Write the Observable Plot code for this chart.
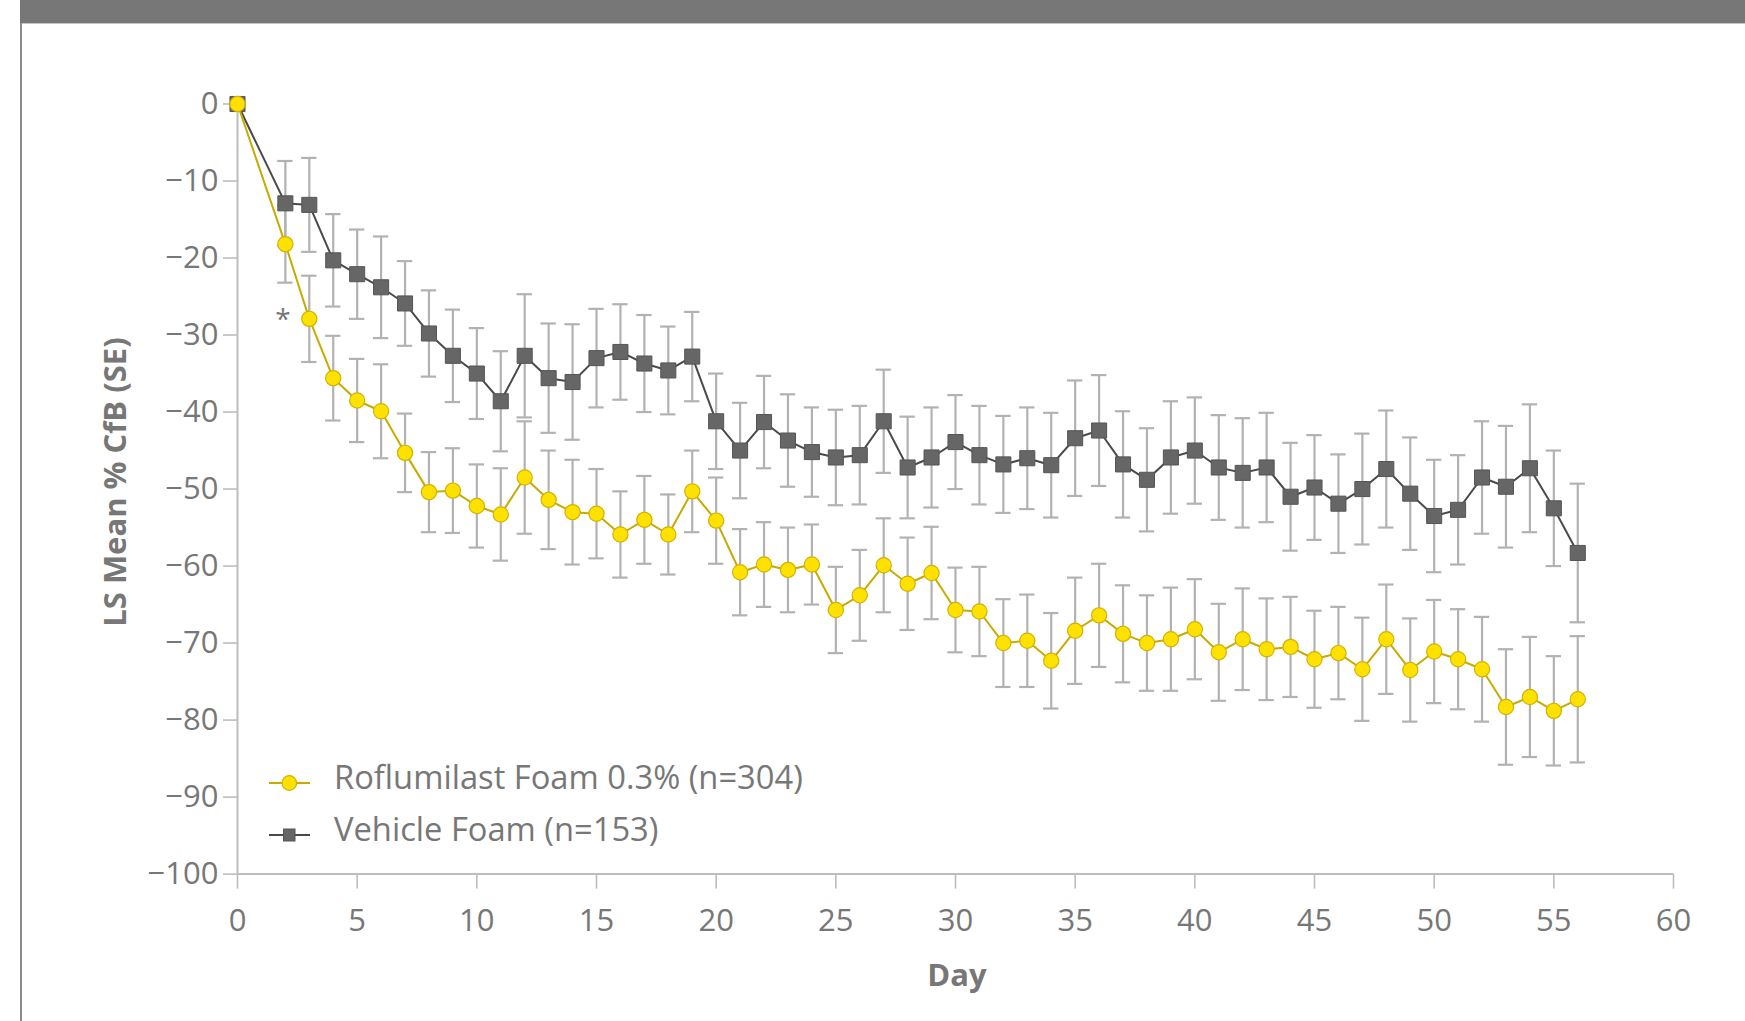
<!DOCTYPE html>
<html>
<head>
<meta charset="utf-8">
<script src="https://cdn.jsdelivr.net/npm/d3@7"></script>
<script src="https://cdn.jsdelivr.net/npm/@observablehq/plot@0.6"></script>
<style>
  html, body { margin: 0; padding: 0; background: #fff; }
  #wrap { position: relative; width: 1745px; height: 1021px; overflow: hidden; font-family: "Open Sans", sans-serif; }
  #band { position: absolute; left: 20px; top: 0; width: 1725px; height: 23px; background: #777777; border-bottom: 1.5px solid #c4c4c4; z-index: 3; }
  #border { position: absolute; left: 20px; top: 23px; width: 1.5px; height: 998px; background: #8c8c8c; z-index: 3; }
  #chart { position: absolute; left: 0; top: 0; }
  #chart svg [aria-label$="axis tick"] { stroke: #bdbdbd; stroke-width: 1.6px; }
  #legend { position: absolute; left: 258px; top: 758px; z-index: 2; overflow: visible; }
</style>
</head>
<body>
<div id="wrap">
  <div id="band"></div>
  <div id="border"></div>
  <div id="chart"></div>
  <svg id="legend" width="620" height="100"></svg>
</div>
<script>
// ---- Data ----
const days = [0,2,3,4,5,6,7,8,9,10,11,12,13,14,15,16,17,18,19,20,21,22,23,24,25,26,27,28,29,30,31,32,33,34,35,36,37,38,39,40,41,42,43,44,45,46,47,48,49,50,51,52,53,54,55,56];

const roflumilastMean = [0,-18.2,-27.9,-35.6,-38.5,-39.9,-45.3,-50.4,-50.2,-52.2,-53.3,-48.5,-51.4,-53.0,-53.2,-55.9,-54.0,-55.9,-50.3,-54.1,-60.8,-59.8,-60.5,-59.8,-65.7,-63.8,-59.9,-62.3,-60.9,-65.7,-65.9,-70.0,-69.7,-72.3,-68.4,-66.4,-68.8,-70.0,-69.5,-68.2,-71.2,-69.5,-70.8,-70.5,-72.1,-71.3,-73.4,-69.5,-73.5,-71.1,-72.1,-73.4,-78.3,-77.0,-78.8,-77.3];
const roflumilastSE = [0,5.0,5.6,5.5,5.4,6.1,5.1,5.2,5.5,5.4,6.0,7.3,6.4,6.8,5.8,5.6,5.7,5.2,5.3,5.6,5.6,5.5,5.5,5.2,5.6,5.9,6.1,6.0,6.0,5.5,5.8,5.7,6.0,6.2,6.9,6.7,6.3,6.2,6.7,6.5,6.3,6.6,6.6,6.5,6.3,6.0,6.7,7.1,6.7,6.7,6.5,6.8,7.5,7.8,7.1,8.2];

const vehicleMean = [0,-12.9,-13.1,-20.3,-22.1,-23.8,-25.9,-29.8,-32.7,-35.0,-38.6,-32.7,-35.6,-36.1,-33.0,-32.2,-33.7,-34.6,-32.8,-41.2,-45.0,-41.3,-43.7,-45.2,-45.9,-45.6,-41.2,-47.2,-45.9,-43.9,-45.6,-46.8,-46.0,-46.9,-43.4,-42.4,-46.8,-48.8,-45.9,-45.0,-47.2,-47.9,-47.2,-51.0,-49.8,-51.9,-50.0,-47.4,-50.6,-53.5,-52.7,-48.5,-49.7,-47.3,-52.5,-58.3];
const vehicleSE = [0,5.5,6.1,6.0,5.8,6.6,5.5,5.6,6.0,5.9,6.5,8.0,7.1,7.5,6.4,6.2,6.3,5.7,5.8,6.2,6.2,6.0,6.0,5.8,6.2,6.4,6.7,6.6,6.5,6.1,6.4,6.3,6.6,6.8,7.5,7.2,6.9,6.7,7.3,6.9,6.8,7.1,7.1,7.0,6.8,6.4,7.2,7.6,7.3,7.3,7.1,7.3,7.9,8.3,7.5,9.0];

const seriesNames = ["Roflumilast Foam 0.3% (n=304)", "Vehicle Foam (n=153)"];
const xTicks = [0,5,10,15,20,25,30,35,40,45,50,55,60];
const yTicks = [0,-10,-20,-30,-40,-50,-60,-70,-80,-90,-100];
const xLabel = "Day";
const yLabel = "LS Mean % CfB (SE)";
const annotations = [{day: 1.9, value: -28.1, text: "*"}];

// ---- Build tables ----
const rof = days.map((d, i) => ({day: d, mean: roflumilastMean[i], se: roflumilastSE[i]}));
const veh = days.map((d, i) => ({day: d, mean: vehicleMean[i], se: vehicleSE[i]}));
const bars = [...veh, ...rof].filter(d => d.se > 0);

const C = {
  yellowFill: "#FFE100", yellowStroke: "#D2B200", yellowLine: "#C9AA00",
  grayFill: "#666666", grayStroke: "#555555", grayLine: "#4a4a4a",
  err: "#b2b2b2", axis: "#bdbdbd", text: "#777777"
};
const capHalf = 0.32; // cap half-width in days

const chart = Plot.plot({
  width: 1745,
  height: 1021,
  marginLeft: 237,
  marginRight: 72,
  marginTop: 103.5,
  marginBottom: 147.4,
  style: {fontFamily: "'Open Sans', sans-serif", fontSize: "31px", color: C.text, background: "transparent", overflow: "visible"},
  x: {domain: [0, 60], ticks: xTicks, tickSize: 15, tickPadding: 20, label: null, tickFormat: d => String(d)},
  y: {domain: [-100, 0], ticks: yTicks, tickSize: 14, tickPadding: 5, label: null,
      tickFormat: d => d === 0 ? "0" : "\u2212" + Math.abs(d)},
  marks: [
    Plot.ruleY([-100], {stroke: C.axis, strokeWidth: 2}),
    Plot.ruleX([0], {y1: -100, y2: 0, stroke: C.axis, strokeWidth: 2}),
    // error bars
    Plot.ruleX(bars, {x: "day", y1: d => d.mean - d.se, y2: d => d.mean + d.se, stroke: C.err, strokeWidth: 2.2}),
    Plot.ruleY(bars, {y: d => d.mean + d.se, x1: d => d.day - capHalf, x2: d => d.day + capHalf, stroke: C.err, strokeWidth: 2.2}),
    Plot.ruleY(bars, {y: d => d.mean - d.se, x1: d => d.day - capHalf, x2: d => d.day + capHalf, stroke: C.err, strokeWidth: 2.2}),
    // vehicle
    Plot.line(veh, {x: "day", y: "mean", stroke: C.grayLine, strokeWidth: 2}),
    Plot.dot(veh, {x: "day", y: "mean", symbol: "square", r: 8.5, fill: C.grayFill, stroke: C.grayStroke, strokeWidth: 1}),
    // roflumilast
    Plot.line(rof, {x: "day", y: "mean", stroke: C.yellowLine, strokeWidth: 2}),
    Plot.dot(rof, {x: "day", y: "mean", r: 7.6, fill: C.yellowFill, stroke: C.yellowStroke, strokeWidth: 1.2}),
    // annotation
    Plot.text(annotations, {x: "day", y: "value", text: "text", fontSize: 28, fill: C.text}),
    // axis titles
    Plot.text([yLabel], {frameAnchor: "left", textAnchor: "middle", lineAnchor: "middle", rotate: -90, dx: -121, dy: -7, fontSize: 31, fontWeight: "bold", fill: C.text}),
    Plot.text([xLabel], {frameAnchor: "bottom", textAnchor: "middle", dx: 1.5, dy: 111.5, fontSize: 31, fontWeight: "bold", fill: C.text})
  ]
});
document.getElementById("chart").appendChild(chart);

// ---- Legend ----
const lg = d3.select("#legend");
const rows = [
  {name: seriesNames[0], kind: "circle", line: C.yellowLine, fill: C.yellowFill, stroke: C.yellowStroke},
  {name: seriesNames[1], kind: "square", line: C.grayLine, fill: C.grayFill, stroke: C.grayStroke}
];
rows.forEach((r, i) => {
  const cy = 25 + i * 52;
  const g = lg.append("g");
  g.append("line").attr("x1", 11).attr("x2", 52).attr("y1", cy).attr("y2", cy)
    .attr("stroke", r.line).attr("stroke-width", 2);
  if (r.kind === "circle") {
    g.append("circle").attr("cx", 31.3).attr("cy", cy).attr("r", 7.3)
      .attr("fill", r.fill).attr("stroke", r.stroke).attr("stroke-width", 1.2);
  } else {
    g.append("rect").attr("x", 25.5).attr("y", cy - 6).attr("width", 11.5).attr("height", 12)
      .attr("fill", r.fill).attr("stroke", r.stroke).attr("stroke-width", 1);
  }
  g.append("text").attr("x", 76).attr("y", cy + 6).text(r.name)
    .attr("font-family", "'Open Sans', sans-serif").attr("font-size", 32.7).attr("fill", C.text);
});
</script>
</body>
</html>
